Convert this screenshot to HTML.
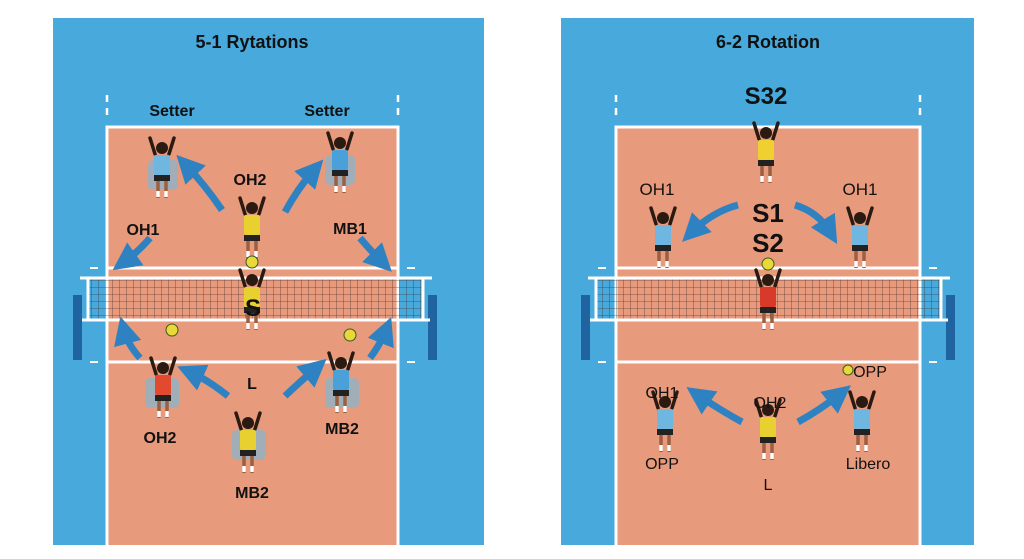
<!DOCTYPE html>
<html><head><meta charset="utf-8"><style>
html,body{margin:0;padding:0;background:#fff;}
svg{display:block;font-family:"Liberation Sans",sans-serif;}
</style></head><body>
<svg width="1024" height="559" viewBox="0 0 1024 559" xmlns="http://www.w3.org/2000/svg">
<defs>
<marker id="ah" markerWidth="4" markerHeight="4" refX="2" refY="2" orient="auto" markerUnits="strokeWidth"><path d="M0,0 L4,2 L0,4 z" fill="#2f82c2"/></marker>
<pattern id="net" width="7" height="7" patternUnits="userSpaceOnUse"><path d="M0,0 H7 M0,0 V7" stroke="#3a2a2a" stroke-width="0.8" fill="none"/></pattern>
<symbol id="p" viewBox="-20 -30 40 70" overflow="visible">
 <path d="M-7,-6 L-12,-22 M7,-6 L12,-22" stroke="#2a1a12" stroke-width="3.5" stroke-linecap="round"/>
 <circle cx="0" cy="-12" r="6" fill="#2a1a12"/>
 <rect x="-8" y="-5" width="16" height="20" rx="2" fill="currentColor"/>
 <rect x="-8" y="15" width="16" height="6" fill="#222"/>
 <path d="M-4,21 V38 M4,21 V38" stroke="#9a6040" stroke-width="3.5"/>
 <path d="M-4,31 V37 M4,31 V37" stroke="#fff" stroke-width="3.5"/>
</symbol>
</defs>
<rect width="1024" height="559" fill="#fff"/>
<rect x="53" y="18" width="431" height="527" fill="#47a9dc"/>
<rect x="561" y="18" width="413" height="527" fill="#47a9dc"/>
<g stroke="#fff" stroke-width="3" fill="#e89a7c">
<path d="M107,545 V127 H398 V545"/>
<path d="M616,545 V127 H920 V545"/>
</g>
<g stroke="#fff" stroke-width="3">
<path d="M107,268 H398 M107,362 H398 M616,268 H920 M616,362 H920"/>
<path d="M107,95 V102 M107,108 V115 M398,95 V102 M398,108 V115 M616,95 V102 M616,108 V115 M920,95 V102 M920,108 V115" stroke-width="2.5"/>
<path d="M90,268 H98 M407,268 H415 M90,362 H98 M407,362 H415 M598,268 H606 M929,268 H937 M598,362 H606 M929,362 H937" stroke-width="2"/>
</g>
<g>
<rect x="73" y="295" width="9" height="65" fill="#1f64a0"/>
<rect x="428" y="295" width="9" height="65" fill="#1f64a0"/>
<rect x="88" y="279" width="335" height="40" fill="url(#net)" opacity="0.8"/>
<path d="M80,278 H432 M82,320 H430 M88,278 V320 M423,278 V320" stroke="#fff" stroke-width="3"/>
<rect x="581" y="295" width="9" height="65" fill="#1f64a0"/>
<rect x="946" y="295" width="9" height="65" fill="#1f64a0"/>
<rect x="596" y="279" width="345" height="40" fill="url(#net)" opacity="0.8"/>
<path d="M588,278 H950 M590,320 H948 M596,278 V320 M941,278 V320" stroke="#fff" stroke-width="3"/>
</g>
<g fill="#8fb3c8" opacity="0.8">
<rect x="148" y="160" width="30" height="30" rx="5"/>
<rect x="325" y="155" width="30" height="30" rx="5"/>
<rect x="145" y="378" width="34" height="30" rx="5"/>
<rect x="325" y="378" width="34" height="30" rx="5"/>
<rect x="232" y="430" width="34" height="30" rx="5"/>
</g>
<use href="#p" x="142" y="130" width="40" height="70" style="color:#6fb6e0"/>
<use href="#p" x="320" y="125" width="40" height="70" style="color:#4aa0d8"/>
<use href="#p" x="232" y="190" width="40" height="70" style="color:#e8d030"/>
<use href="#p" x="232" y="262" width="40" height="70" style="color:#e8d030"/>
<use href="#p" x="143" y="350" width="40" height="70" style="color:#e24a30"/>
<use href="#p" x="321" y="345" width="40" height="70" style="color:#4aa0d8"/>
<use href="#p" x="228" y="405" width="40" height="70" style="color:#e8d030"/>
<use href="#p" x="746" y="115" width="40" height="70" style="color:#f0d030"/>
<use href="#p" x="643" y="200" width="40" height="70" style="color:#6fb6e0"/>
<use href="#p" x="840" y="200" width="40" height="70" style="color:#6fb6e0"/>
<use href="#p" x="748" y="262" width="40" height="70" style="color:#d83a2a"/>
<use href="#p" x="645" y="384" width="40" height="70" style="color:#6fb6e0"/>
<use href="#p" x="748" y="392" width="40" height="70" style="color:#e8d030"/>
<use href="#p" x="842" y="384" width="40" height="70" style="color:#6fb6e0"/>
<g fill="#e8d838" stroke="#3a5a20" stroke-width="1">
<circle cx="252" cy="262" r="6"/><circle cx="172" cy="330" r="6"/><circle cx="350" cy="335" r="6"/>
<circle cx="768" cy="264" r="6"/><circle cx="848" cy="370" r="5"/>
</g>
<g stroke="#2f82c2" stroke-width="7" fill="none" marker-end="url(#ah)">
<path d="M222,210 Q205,185 186,165"/>
<path d="M285,212 Q298,188 314,170"/>
<path d="M150,238 Q138,252 124,262"/>
<path d="M360,238 Q372,252 382,262"/>
<path d="M140,358 Q128,345 124,330"/>
<path d="M370,358 Q380,345 386,330"/>
<path d="M228,396 Q208,380 190,372"/>
<path d="M285,396 Q302,380 316,368"/>
<path d="M738,205 Q712,212 692,232"/>
<path d="M795,205 Q818,212 830,232"/>
<path d="M742,422 Q720,410 698,395"/>
<path d="M798,422 Q820,410 840,394"/>
</g>
<g fill="#111" text-anchor="middle" font-weight="bold">
<text x="252" y="48" font-size="18">5-1 Rytations</text>
<text x="768" y="48" font-size="18">6-2 Rotation</text>
<text x="172" y="116" font-size="16">Setter</text>
<text x="327" y="116" font-size="16">Setter</text>
<text x="250" y="185" font-size="16">OH2</text>
<text x="143" y="235" font-size="16">OH1</text>
<text x="350" y="234" font-size="16">MB1</text>
<text x="253" y="316" font-size="24">S</text>
<text x="252" y="389" font-size="16">L</text>
<text x="160" y="443" font-size="16">OH2</text>
<text x="342" y="434" font-size="16">MB2</text>
<text x="252" y="498" font-size="16">MB2</text>
<text x="766" y="104" font-size="24">S32</text>
<text x="657" y="195" font-size="17" font-weight="normal">OH1</text>
<text x="860" y="195" font-size="17" font-weight="normal">OH1</text>
<text x="768" y="222" font-size="26">S1</text>
<text x="768" y="252" font-size="26">S2</text>
<text x="662" y="398" font-size="16" font-weight="normal">OH1</text>
<text x="870" y="377" font-size="16" font-weight="normal">OPP</text>
<text x="770" y="408" font-size="16" font-weight="normal">OH2</text>
<text x="662" y="469" font-size="16" font-weight="normal">OPP</text>
<text x="868" y="469" font-size="16" font-weight="normal">Libero</text>
<text x="768" y="490" font-size="16" font-weight="normal">L</text>
</g>
</svg>
</body></html>
